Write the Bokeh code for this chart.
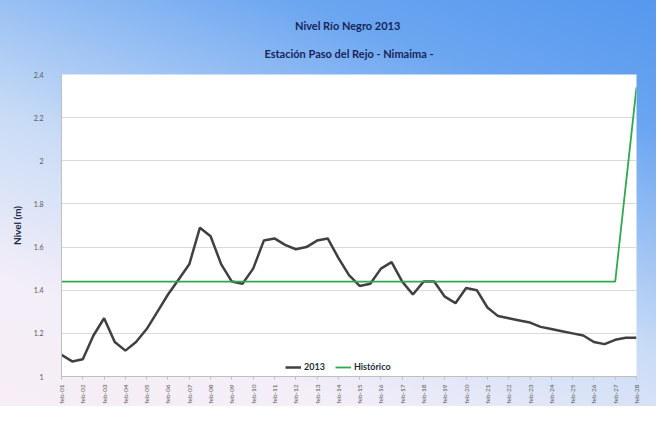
import math
from bokeh.plotting import figure
from bokeh.models import Title, Legend, LegendItem, FixedTicker, Range1d
from bokeh.embed import file_html
from bokeh.resources import INLINE

# ---- data ----
day_labels = ["feb-%02d" % d for d in range(1, 29)]
day_ticks = list(range(1, 29))

# 2013 series, read every half day (day 1, 1.5, 2, ... 28)
day_2013 = [1 + 0.5 * k for k in range(55)]
nivel_2013 = [1.10, 1.07, 1.08, 1.19, 1.27, 1.16, 1.12, 1.16, 1.22, 1.30,
              1.38, 1.45, 1.52, 1.69, 1.65, 1.52, 1.44, 1.43, 1.50, 1.63,
              1.64, 1.61, 1.59, 1.60, 1.63, 1.64, 1.55, 1.47, 1.42, 1.43,
              1.50, 1.53, 1.44, 1.38, 1.44, 1.44, 1.37, 1.34, 1.41, 1.40,
              1.32, 1.28, 1.27, 1.26, 1.25, 1.23, 1.22, 1.21, 1.20, 1.19,
              1.16, 1.15, 1.17, 1.18, 1.18]

historico = [1.44, 1.44, 1.44, 1.44, 1.44, 1.44, 1.44, 1.44, 1.44, 1.44,
             1.44, 1.44, 1.44, 1.44, 1.44, 1.44, 1.44, 1.44, 1.44, 1.44,
             1.44, 1.44, 1.44, 1.44, 1.44, 1.44, 1.44, 2.34]

y_ticks = [1, 1.2, 1.4, 1.6, 1.8, 2, 2.2, 2.4]

FONT = "Lato"

p = figure(frame_width=575, frame_height=302, output_backend="svg", toolbar_location=None,
           x_range=Range1d(1, 28), y_range=Range1d(1, 2.4),
           min_border_left=61, min_border_right=20, min_border_top=0, min_border_bottom=0)

p.background_fill_color = "white"
p.border_fill_color = None
p.outline_line_color = None
p.styles = {"background": "linear-gradient(200deg, #5598ee 0%, #6aa5f0 20%, #c9dcf6 55%, #f3eef8 80%, #f7eef6 100%)"}

r1 = p.line(day_2013, nivel_2013, line_color="#404040", line_width=2.5)
r2 = p.line(day_ticks, historico, line_color="#2fa84f", line_width=1.8)

p.xgrid.visible = False
p.ygrid.grid_line_color = "#d9d9d9"
p.ygrid.grid_line_width = 1

p.yaxis.ticker = FixedTicker(ticks=y_ticks)
p.yaxis.major_label_overrides = {1: "1", 2: "2"}
p.yaxis.major_label_text_font_size = "7px"
p.yaxis.major_label_text_color = "#595959"
p.yaxis.major_label_text_font = FONT
p.yaxis.major_label_standoff = 12
p.yaxis.axis_line_color = "#bfbfbf"
p.yaxis.major_tick_line_color = None
p.yaxis.minor_tick_line_color = None
p.yaxis.axis_label = "Nivel (m)"
p.yaxis.axis_label_text_font = FONT
p.yaxis.axis_label_text_font_style = "bold"
p.yaxis.axis_label_text_font_size = "10px"
p.yaxis.axis_label_text_color = "#1f2d4a"
p.yaxis.axis_label_standoff = 8

p.xaxis.ticker = FixedTicker(ticks=day_ticks)
p.xaxis.major_label_overrides = {d: lab for d, lab in zip(day_ticks, day_labels)}
p.xaxis.major_label_orientation = math.pi / 2
p.xaxis.major_label_text_font_size = "6.5px"
p.xaxis.major_label_text_color = "#595959"
p.xaxis.major_label_text_font = FONT
p.xaxis.major_label_standoff = 5
p.xaxis.axis_label = None
p.xaxis.axis_line_color = "#bfbfbf"
p.xaxis.major_tick_line_color = "#bfbfbf"
p.xaxis.major_tick_in = 0
p.xaxis.major_tick_out = 3
p.xaxis.minor_tick_line_color = None

legend = Legend(items=[LegendItem(label="2013", renderers=[r1]),
                       LegendItem(label="Histórico", renderers=[r2])],
                orientation="horizontal", location=(224, 4),
                background_fill_alpha=0, border_line_color=None,
                label_text_font=FONT, label_text_font_size="9px",
                label_text_font_style="bold", label_text_color="#1f2d3a",
                glyph_width=16, glyph_height=8, label_height=8,
                spacing=10, padding=0, margin=0, label_standoff=3)
p.add_layout(legend)

# top spacer title (outermost), then the two title lines
p.title.text = " "
p.title.text_font_size = "14px"
p.title.standoff = 0
p.add_layout(Title(text="Estación Paso del Rejo - Nimaima -", align="center",
                   text_font=FONT, text_font_size="11px", text_font_style="bold",
                   text_color="#17265a", standoff=29), "above")
p.add_layout(Title(text="Nivel Río Negro  2013", align="center",
                   text_font=FONT, text_font_size="11px", text_font_style="bold",
                   text_color="#17265a", standoff=-3), "above")

open("out.html", "w").write(file_html(p, INLINE))
